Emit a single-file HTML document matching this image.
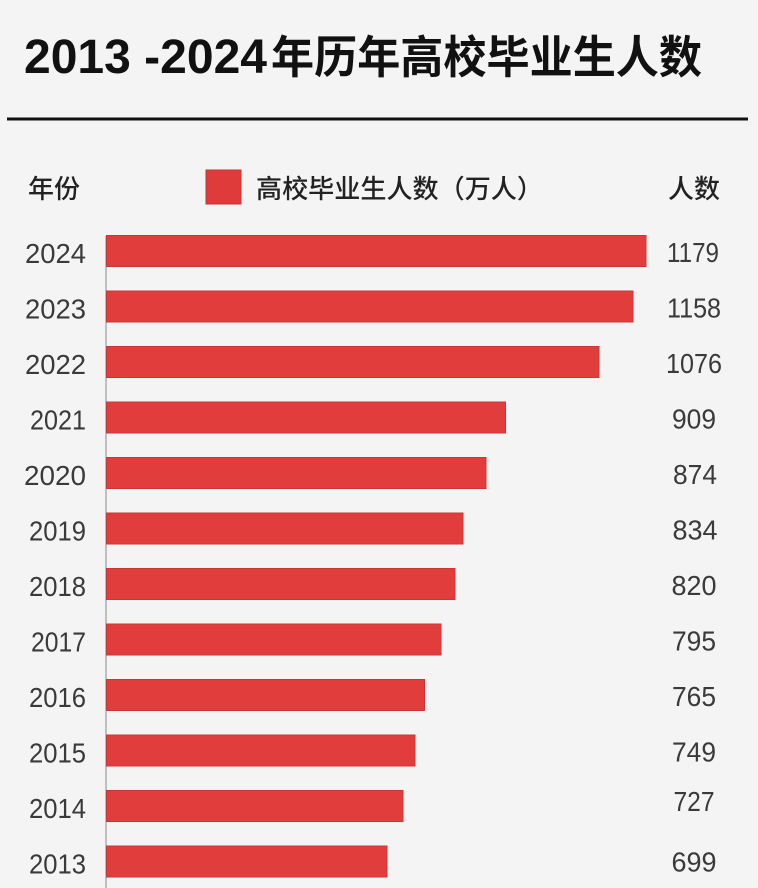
<!DOCTYPE html>
<html>
<head>
<meta charset="utf-8">
<style>
  html, body { margin:0; padding:0; background:#f4f4f4; }
  svg { display:block; }
  .t { font-family:"Liberation Sans","Noto Sans CJK SC",sans-serif; }
</style>
</head>
<body>
<svg width="758" height="888" viewBox="0 0 758 888" xmlns="http://www.w3.org/2000/svg">
  <rect x="0" y="0" width="758" height="888" fill="#f4f4f4"/>

  <!-- Title -->
  <text class="t" x="24" y="73" font-size="48" font-weight="700" fill="#111" textLength="243" lengthAdjust="spacingAndGlyphs">2013 -2024</text>
  <text class="t" x="271" y="73" font-size="45" font-weight="700" fill="#111" textLength="431" lengthAdjust="spacingAndGlyphs">年历年高校毕业生人数</text>

  <!-- Rule -->
  <rect x="7" y="117.5" width="741" height="3" fill="#111"/>

  <!-- Header row -->
  <text class="t" x="28" y="198" font-size="26" font-weight="500" fill="#222" textLength="52" lengthAdjust="spacingAndGlyphs">年份</text>
  <rect x="206" y="170" width="35" height="34" fill="#e03b3b" stroke="#c53434" stroke-width="1"/>
  <text class="t" x="256" y="198" font-size="26" font-weight="500" fill="#222" textLength="287" lengthAdjust="spacingAndGlyphs">高校毕业生人数（万人）</text>
  <text class="t" x="668" y="198" font-size="26" font-weight="500" fill="#222" textLength="52" lengthAdjust="spacingAndGlyphs">人数</text>

  <!-- Axis line -->
  <line x1="106" y1="236" x2="106" y2="888" stroke="#8a8a8a" stroke-width="1"/>

  <!-- Bars -->
  <g fill="#e23d3d" stroke="#c93636" stroke-width="1">
    <rect x="106.5" y="235.5" width="539.5" height="31"/>
    <rect x="106.5" y="291" width="526.5" height="31"/>
    <rect x="106.5" y="346.5" width="492.5" height="31"/>
    <rect x="106.5" y="402" width="399" height="31"/>
    <rect x="106.5" y="457.5" width="379.5" height="31"/>
    <rect x="106.5" y="513" width="356.5" height="31"/>
    <rect x="106.5" y="568.5" width="348.5" height="31"/>
    <rect x="106.5" y="624" width="334.5" height="31"/>
    <rect x="106.5" y="679.5" width="318" height="31"/>
    <rect x="106.5" y="735" width="308.5" height="31"/>
    <rect x="106.5" y="790.5" width="296.5" height="31"/>
    <rect x="106.5" y="846" width="280.5" height="31"/>
  </g>

  <!-- Year labels (right aligned at 86) -->
  <g class="t" font-size="28" fill="#3a3a3a" text-anchor="end" lengthAdjust="spacingAndGlyphs">
    <text x="86" y="263" textLength="61" lengthAdjust="spacingAndGlyphs">2024</text>
    <text x="86" y="318.5" textLength="61" lengthAdjust="spacingAndGlyphs">2023</text>
    <text x="86" y="374" textLength="61" lengthAdjust="spacingAndGlyphs">2022</text>
    <text x="86" y="429.5" textLength="56" lengthAdjust="spacingAndGlyphs">2021</text>
    <text x="86" y="485" textLength="62" lengthAdjust="spacingAndGlyphs">2020</text>
    <text x="86" y="540.5" textLength="57" lengthAdjust="spacingAndGlyphs">2019</text>
    <text x="86" y="596" textLength="57" lengthAdjust="spacingAndGlyphs">2018</text>
    <text x="86" y="651.5" textLength="55" lengthAdjust="spacingAndGlyphs">2017</text>
    <text x="86" y="707" textLength="57" lengthAdjust="spacingAndGlyphs">2016</text>
    <text x="86" y="762.5" textLength="57" lengthAdjust="spacingAndGlyphs">2015</text>
    <text x="86" y="818" textLength="57" lengthAdjust="spacingAndGlyphs">2014</text>
    <text x="86" y="873.5" textLength="57" lengthAdjust="spacingAndGlyphs">2013</text>
  </g>

  <!-- Value labels (centered at 694) -->
  <g class="t" font-size="28" fill="#3a3a3a" text-anchor="middle">
    <text x="693" y="262" textLength="52" lengthAdjust="spacingAndGlyphs">1179</text>
    <text x="694" y="317.5" textLength="54" lengthAdjust="spacingAndGlyphs">1158</text>
    <text x="694" y="373" textLength="56" lengthAdjust="spacingAndGlyphs">1076</text>
    <text x="694" y="428.5" textLength="44" lengthAdjust="spacingAndGlyphs">909</text>
    <text x="695" y="484" textLength="44" lengthAdjust="spacingAndGlyphs">874</text>
    <text x="695" y="539.5" textLength="45" lengthAdjust="spacingAndGlyphs">834</text>
    <text x="694" y="595" textLength="45" lengthAdjust="spacingAndGlyphs">820</text>
    <text x="694" y="650.5" textLength="44" lengthAdjust="spacingAndGlyphs">795</text>
    <text x="694" y="706" textLength="44" lengthAdjust="spacingAndGlyphs">765</text>
    <text x="694" y="761.5" textLength="44" lengthAdjust="spacingAndGlyphs">749</text>
    <text x="694" y="811" textLength="41" lengthAdjust="spacingAndGlyphs">727</text>
    <text x="694" y="871.5" textLength="45" lengthAdjust="spacingAndGlyphs">699</text>
  </g>
</svg>
</body>
</html>
